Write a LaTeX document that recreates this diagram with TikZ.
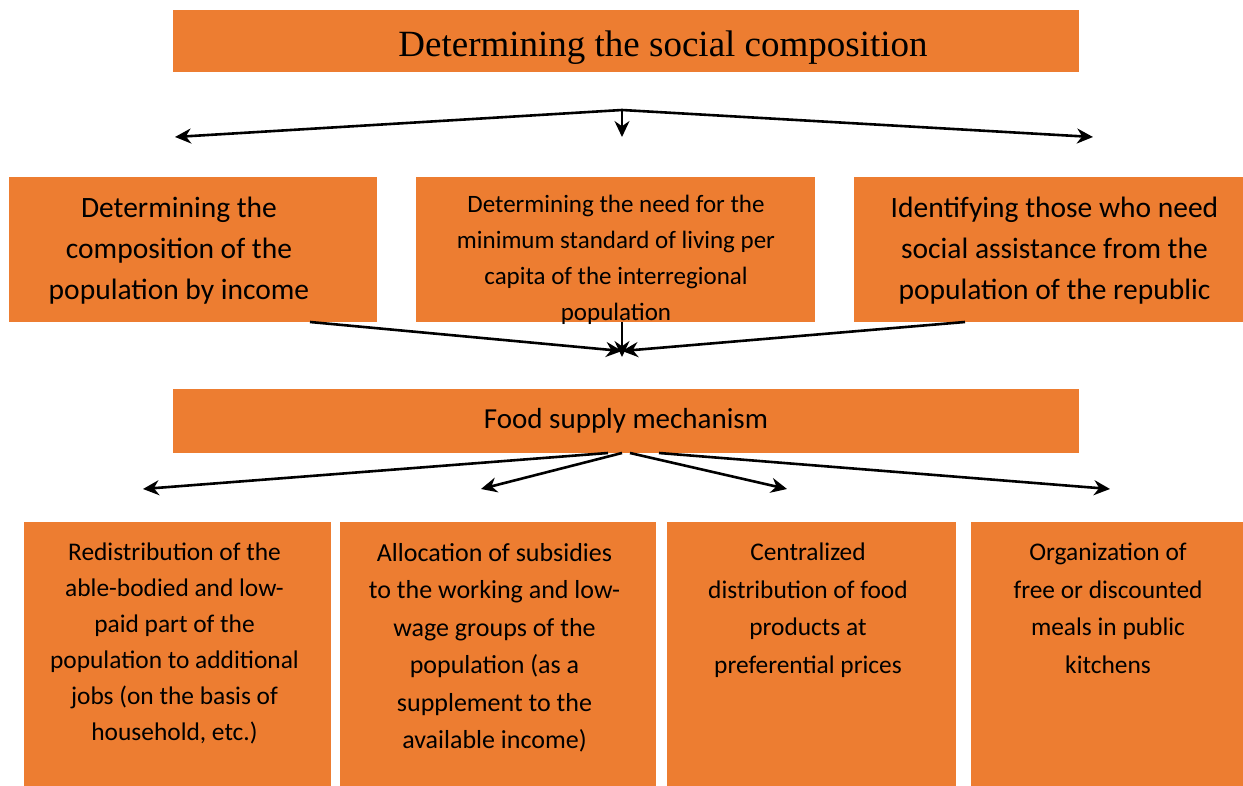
\documentclass[tikz,border=0pt]{standalone}
\usepackage{fontspec}
\setmainfont{Carlito}
\newfontfamily\titlefont{Liberation Serif}
\usetikzlibrary{arrows.meta}
\definecolor{boxorange}{HTML}{ED7D31}
\tikzset{
	box/.style={fill=boxorange, draw=none, inner sep=0pt},
	txt/.style={align=center, inner sep=0pt},
	arr/.style={-{Stealth[length=16pt,width=15pt]}, line width=2.6pt},
}
\begin{document}
\begin{tikzpicture}[x=1pt,y=-1pt]
	\useasboundingbox ( 0, 0 ) rectangle ( 1243, 786 );

	% заголовок
	\node [box, minimum width=906pt, minimum height=62pt] (title) at ( 626, 41 ) {};
	\node [txt, font=\titlefont\fontsize{37}{44}\selectfont] (titletext) at ( 663, 48 ) {Determining the social composition};

	% второй уровень
	\node [box, minimum width=368pt, minimum height=145pt] (income) at ( 193, 249.5 ) {};
	\node [txt, font=\fontsize{29.5}{41}\selectfont] (incometext) at ( 179, 251 ) {Determining the\\composition of the\\population by income};
	\node [box, minimum width=399pt, minimum height=145pt] (need) at ( 615.5, 249.5 ) {};
	\node [txt, font=\fontsize{25}{36}\selectfont] (needtext) at ( 616, 260 ) {Determining the need for the\\minimum standard of living per\\capita of the interregional\\population};
	\node [box, minimum width=389pt, minimum height=145pt] (assist) at ( 1048.5, 249.5 ) {};
	\node [txt, font=\fontsize{29.5}{41}\selectfont] (assisttext) at ( 1054.5, 251 ) {Identifying those who need\\social assistance from the\\population of the republic};

	% механизм
	\node [box, minimum width=906pt, minimum height=64pt, font=\fontsize{29}{34}\selectfont] (food) at ( 626, 421 ) {Food supply mechanism};

	% нижний уровень
	\node [box, minimum width=307pt, minimum height=264pt] (redist) at ( 177.5, 654 ) {};
	\node [txt, anchor=north, font=\fontsize{25.4}{36}\selectfont] (redisttext) at ( 174.5, 543 ) {Redistribution of the\\able-bodied and low-\\paid part of the\\population to additional\\jobs (on the basis of\\household, etc.)};
	\node [box, minimum width=316pt, minimum height=264pt] (subsid) at ( 498, 654 ) {};
	\node [txt, anchor=north, font=\fontsize{26}{37.5}\selectfont] (subsidtext) at ( 494.5, 543 ) {Allocation of subsidies\\to the working and low-\\wage groups of the\\population (as a\\supplement to the\\available income)};
	\node [box, minimum width=289pt, minimum height=264pt] (central) at ( 811.5, 654 ) {};
	\node [txt, anchor=north, font=\fontsize{25.4}{37.5}\selectfont] (centraltext) at ( 808, 543 ) {Centralized\\distribution of food\\products at\\preferential prices};
	\node [box, minimum width=272pt, minimum height=264pt] (meals) at ( 1107, 654 ) {};
	\node [txt, anchor=north, font=\fontsize{25.4}{37.5}\selectfont] (mealstext) at ( 1108, 543 ) {Organization of\\free or discounted\\meals in public\\kitchens};

	% стрелки сверху
	\coordinate (tsplit) at ( 622, 110 );
	\coordinate (tleft) at ( 175, 137 );
	\coordinate (tright) at ( 1093, 137 );
	\coordinate (tdown) at ( 622, 137 );
	\draw [arr] (tsplit) -- (tleft);
	\draw [arr] (tsplit) -- (tright);
	\draw [arr, line width=2pt] (tsplit) -- (tdown);

	% стрелки к механизму
	\coordinate (mleft) at ( 310, 322 );
	\coordinate (mright) at ( 965, 322 );
	\coordinate (mjoin) at ( 622, 351 );
	\coordinate (mdown) at ( 622, 357 );
	\draw [arr] (mleft) -- (mjoin);
	\draw [arr] (mright) -- (mjoin);
	\draw [arr, line width=2pt] (need.south -| mjoin) -- (mdown);

	% стрелки снизу
	\coordinate (bsplit) at ( 622, 453 );
	\coordinate (b1) at ( 143, 489 );
	\coordinate (b2) at ( 481, 489 );
	\coordinate (b3) at ( 787, 489 );
	\coordinate (b4) at ( 1110, 489 );
	\draw [arr] ( 608, 453 ) -- (b1);
	\draw [arr] (bsplit) -- (b2);
	\draw [arr] ( 630, 453 ) -- (b3);
	\draw [arr] ( 659, 453 ) -- (b4);
\end{tikzpicture}
\end{document}
